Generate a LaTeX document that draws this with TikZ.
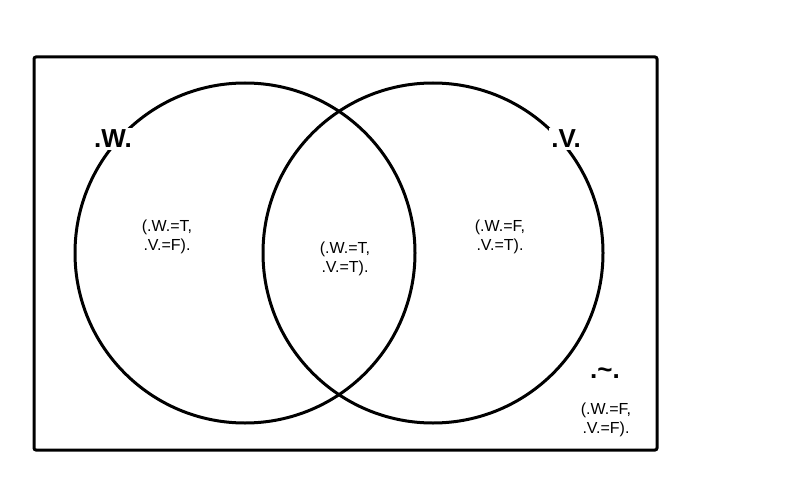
\documentclass[tikz,border=0pt]{standalone}
\usepackage{fontspec}
\setmainfont{Liberation Sans}
\usetikzlibrary{positioning}

\begin{document}
\begin{tikzpicture}[
  x=1pt, y=-1pt,
  set/.style={circle, draw=black, line width=3pt, minimum size=340pt, inner sep=0pt},
  setname/.style={fill=white, inner sep=2pt, font=\bfseries\fontsize{26}{28}\selectfont},
  region/.style={align=center, font=\fontsize{16}{19}\selectfont}
]
\useasboundingbox (0,0) rectangle (800,500);

% Universe
\draw[line width=3pt, rounded corners=2pt] (34,57) rectangle (657,450);

% Sets
\node[set] (W) at (245,253) {};
\node[set] (V) at (433,253) {};

% Set names
\node[setname] (Wname) at (113,139) {.W.};
\node[setname] (Vname) at (566,139) {.V.};
\node[setname, fill=none] (Nname) at (605,373) {.\char`~.};

% Regions
\node[region] (WnotV) at (167,237) {(.W.=T,\\.V.=F).};
\node[region] (WandV) at (345,259) {(.W.=T,\\.V.=T).};
\node[region] (VnotW) at (500,237) {(.W.=F,\\.V.=T).};
\node[region] (neither) at (606,420) {(.W.=F,\\.V.=F).};

\end{tikzpicture}
\end{document}
